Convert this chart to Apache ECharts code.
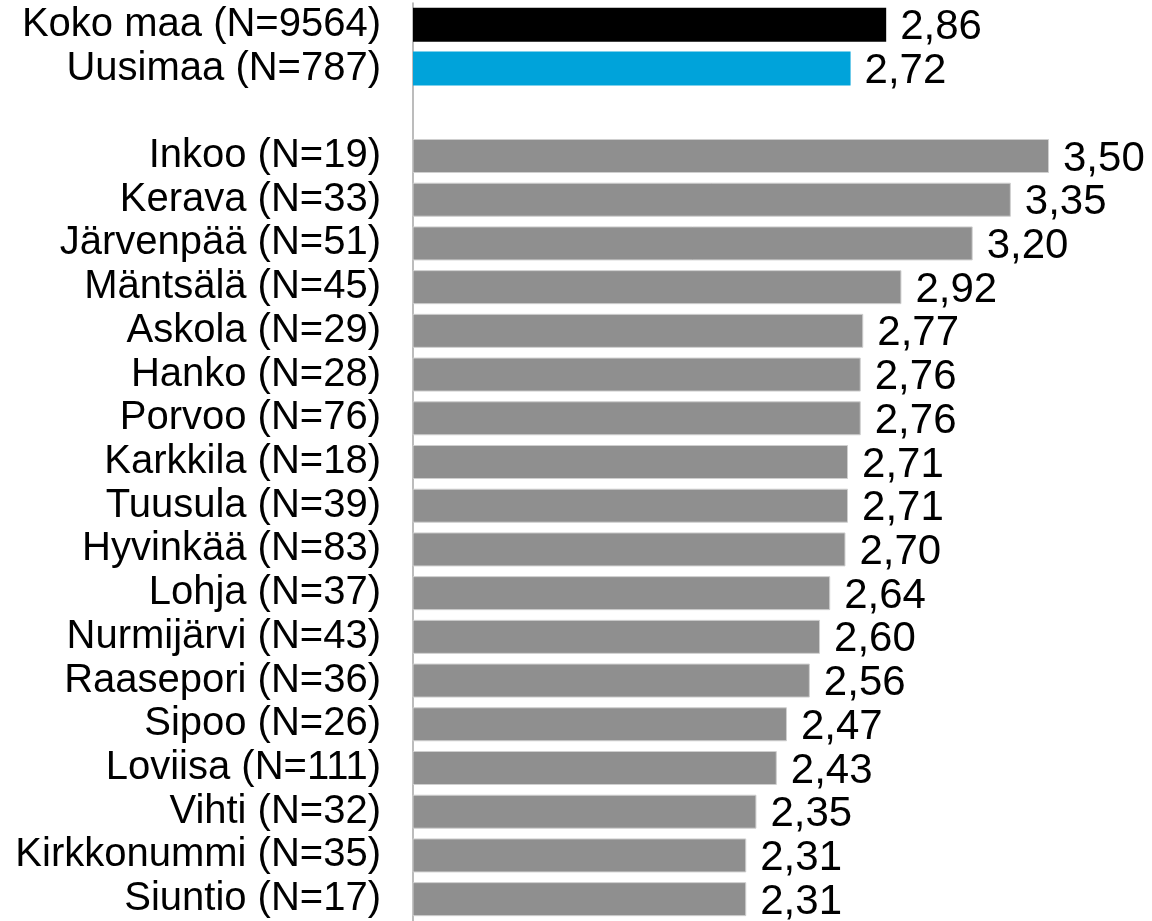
<!DOCTYPE html>
<html>
<head>
<meta charset="utf-8">
<script src="https://cdn.jsdelivr.net/npm/echarts@6/dist/echarts.min.js"></script>
<style>
    html, body { margin: 0; padding: 0; background: #fff; }
    #chart { width: 1152px; height: 921px; }
</style>
</head>
<body>
<div id="chart"></div>
<script>
    const categories = [
        'Koko maa (N=9564)', 'Uusimaa (N=787)', '',
        'Inkoo (N=19)', 'Kerava (N=33)', 'Järvenpää (N=51)', 'Mäntsälä (N=45)',
        'Askola (N=29)', 'Hanko (N=28)', 'Porvoo (N=76)', 'Karkkila (N=18)',
        'Tuusula (N=39)', 'Hyvinkää (N=83)', 'Lohja (N=37)', 'Nurmijärvi (N=43)',
        'Raasepori (N=36)', 'Sipoo (N=26)', 'Loviisa (N=111)', 'Vihti (N=32)',
        'Kirkkonummi (N=35)', 'Siuntio (N=17)'
    ];
    const values = [
        2.86, 2.72, null,
        3.50, 3.35, 3.20, 2.92, 2.77, 2.76, 2.76, 2.71, 2.71,
        2.70, 2.64, 2.60, 2.56, 2.47, 2.43, 2.35, 2.31, 2.31
    ];

    const fontPrimary = '"Liberation Sans", Arial, sans-serif';
    const barColor = (i) => {
        if (i === 0) return '#000000';
        if (i === 1) return '#00a3da';
        return '#8f8f8f';
    };

    const chart = echarts.init(document.getElementById('chart'));
    chart.setOption({
        backgroundColor: '#ffffff',
        animation: false,
        grid: { left: 413, right: 103, top: 3, height: 924 },
        xAxis: {
            type: 'value',
            min: 1,
            max: 3.5,
            show: false
        },
        yAxis: {
            type: 'category',
            inverse: true,
            data: categories,
            axisLine: { show: true, lineStyle: { color: '#a6a6a6', width: 1.5 } },
            axisTick: { show: false },
            axisLabel: {
                interval: 0,
                color: '#000',
                fontSize: 40,
                fontFamily: fontPrimary,
                margin: 32,
                padding: [6, 0, 0, 0]
            }
        },
        series: [{
            type: 'bar',
            barWidth: 34,
            data: values.map((v, i) => ({
                value: v,
                itemStyle: {
                    color: barColor(i),
                    borderColor: i > 1 ? '#cfcfcf' : barColor(i),
                    borderWidth: i > 1 ? 1 : 0
                }
            })),
            label: {
                show: true,
                position: 'right',
                distance: 14,
                offset: [0, 3],
                color: '#000',
                fontSize: 42,
                fontFamily: fontPrimary,
                formatter: (p) => p.value == null ? '' : p.value.toFixed(2).replace('.', ',')
            }
        }]
    });
</script>
</body>
</html>
